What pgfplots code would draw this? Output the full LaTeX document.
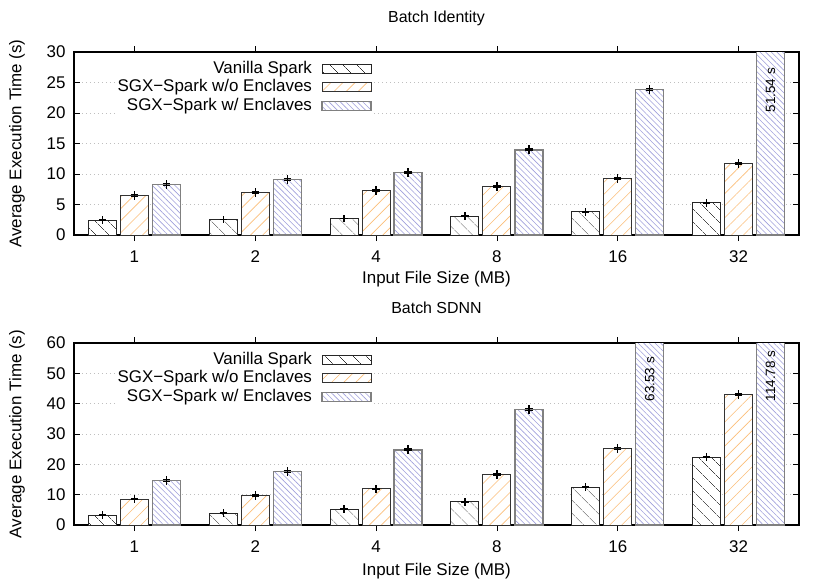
\documentclass[border=0pt]{standalone}
\usepackage{fontspec}
\setmainfont{Liberation Sans}
\usepackage{pgfplots}
\pgfplotsset{compat=1.18}
\usetikzlibrary{patterns.meta}

\definecolor{hatchorange}{RGB}{252,190,120}
\definecolor{hatchpurple}{RGB}{160,160,220}

\newcommand{\lbl}{\fontsize{17}{19}\selectfont}

\pgfplotsset{
  batch/.style={
    scale only axis, width=725bp,
    xmin=0.5, xmax=6.5, ymin=0,
    ybar=4bp, bar width=28bp,
    xtick={1,...,6}, xticklabels={1,2,4,8,16,32},
    ymajorgrids,
    grid style={gray!50, line width=0.6bp, dash pattern=on 1.2bp off 2.8bp},
    major tick length=6bp, tick style={black, line width=0.8bp},
    axis line style={line width=1.2bp},
    tick label style={font=\lbl},
    /pgf/number format/assume math mode=true,
    yticklabel style={xshift=-5bp},
    xticklabel style={yshift=-6bp},
    every axis title/.style={at={(rel axis cs:0.5,1)}, yshift=30bp, anchor=base, font=\fontsize{16}{19}\selectfont},
    every axis x label/.style={at={(rel axis cs:0.5,0)}, yshift=-48bp, anchor=base, font=\lbl},
    every axis y label/.style={at={(rel axis cs:0,0.5)}, xshift=-57bp, rotate=90, anchor=center, font=\lbl},
    xlabel={Input File Size (MB)},
    ylabel={Average Execution Time (s)},
    legend image code/.code={\draw[##1] (0bp,-4.5bp) rectangle (49bp,4.5bp);},
    legend plot pos=right,
    legend cell align=right,
    legend style={at={(rel axis cs:0.411,0.959)}, anchor=north east, draw=none,
      fill=white, inner sep=0pt, font=\lbl, column sep=8bp,
      nodes={inner sep=1.5bp, text height=12bp, text depth=3.5bp}},
    error bars/y dir=both, error bars/y explicit, error bars/error mark=+,
    error bars/error bar style={black, line width=1.2bp},
    error bars/error mark options={black, line width=1.2bp, mark size=3.6bp},
  },
  vanilla/.style={draw=black!85, line width=1bp, preaction={fill=white},
    pattern={Lines[angle=-45,distance=9.5bp,line width=0.6bp]}, pattern color=black!80},
  noencl/.style={draw=black!80, line width=1bp, preaction={fill=white},
    pattern={Lines[angle=45,distance=8.5bp,line width=0.6bp]}, pattern color=hatchorange},
  encl/.style={draw=black!50, line width=1.3bp, preaction={fill=white},
    pattern={Lines[angle=-45,distance=4bp,line width=0.6bp]}, pattern color=hatchpurple},
}

\begin{document}
\begin{tikzpicture}
\path (-74bp,-346bp) rectangle (756bp,235bp);

\begin{axis}[batch, at={(0,0)}, anchor=south west, height=183bp,
  ymax=30, ytick={0,5,...,30}, title={Batch Identity}]
  \addplot[vanilla] coordinates {
    (1,2.45) +- (0,0.05) (2,2.55) +- (0,0.05) (3,2.7) +- (0,0.05)
    (4,3.06) +- (0,0.05) (5,3.8) +- (0,0.05) (6,5.3) +- (0,0.05) };
  \addplot[noencl] coordinates {
    (1,6.45) +- (0,0.15) (2,6.95) +- (0,0.1) (3,7.33) +- (0,0.1)
    (4,7.9) +- (0,0.15) (5,9.33) +- (0,0.15) (6,11.8) +- (0,0.15) };
  \addplot[encl] coordinates {
    (1,8.3) +- (0,0.15) (2,9.1) +- (0,0.1) (3,10.3) +- (0,0.15)
    (4,13.94) +- (0,0.15) (5,23.9) +- (0,0.15) (6,51.54) +- (0,0) };
  \legend{Vanilla Spark, SGX−Spark w/o Enclaves, SGX−Spark w/ Enclaves}
  \node[rotate=90, anchor=west, inner sep=0pt, font=\fontsize{13.5}{16}\selectfont]
    at (axis cs:6.265,20.1) {51.54 s};
\end{axis}

\begin{axis}[batch, at={(0,-290bp)}, anchor=south west, height=182bp,
  ymax=60, ytick={0,10,...,60}, title={Batch SDNN},
  every axis x label/.append style={yshift=-2bp}]
  \addplot[vanilla] coordinates {
    (1,3.2) +- (0,0.1) (2,3.95) +- (0,0.1) (3,5.2) +- (0,0.1)
    (4,7.6) +- (0,0.1) (5,12.4) +- (0,0.1) (6,22.3) +- (0,0.1) };
  \addplot[noencl] coordinates {
    (1,8.5) +- (0,0.2) (2,9.7) +- (0,0.2) (3,11.9) +- (0,0.2)
    (4,16.5) +- (0,0.3) (5,25.2) +- (0,0.3) (6,42.9) +- (0,0.3) };
  \addplot[encl] coordinates {
    (1,14.75) +- (0,0.3) (2,17.7) +- (0,0.3) (3,24.75) +- (0,0.3)
    (4,38.1) +- (0,0.3) (5,63.53) +- (0,0) (6,114.78) +- (0,0) };
  \legend{Vanilla Spark, SGX−Spark w/o Enclaves, SGX−Spark w/ Enclaves}
  \node[rotate=90, anchor=west, inner sep=0pt, font=\fontsize{13.5}{16}\selectfont]
    at (axis cs:5.265,40.7) {63.53 s};
  \node[rotate=90, anchor=west, inner sep=0pt, font=\fontsize{13.5}{16}\selectfont]
    at (axis cs:6.265,40.7) {114.78 s};
\end{axis}
\end{tikzpicture}
\end{document}
